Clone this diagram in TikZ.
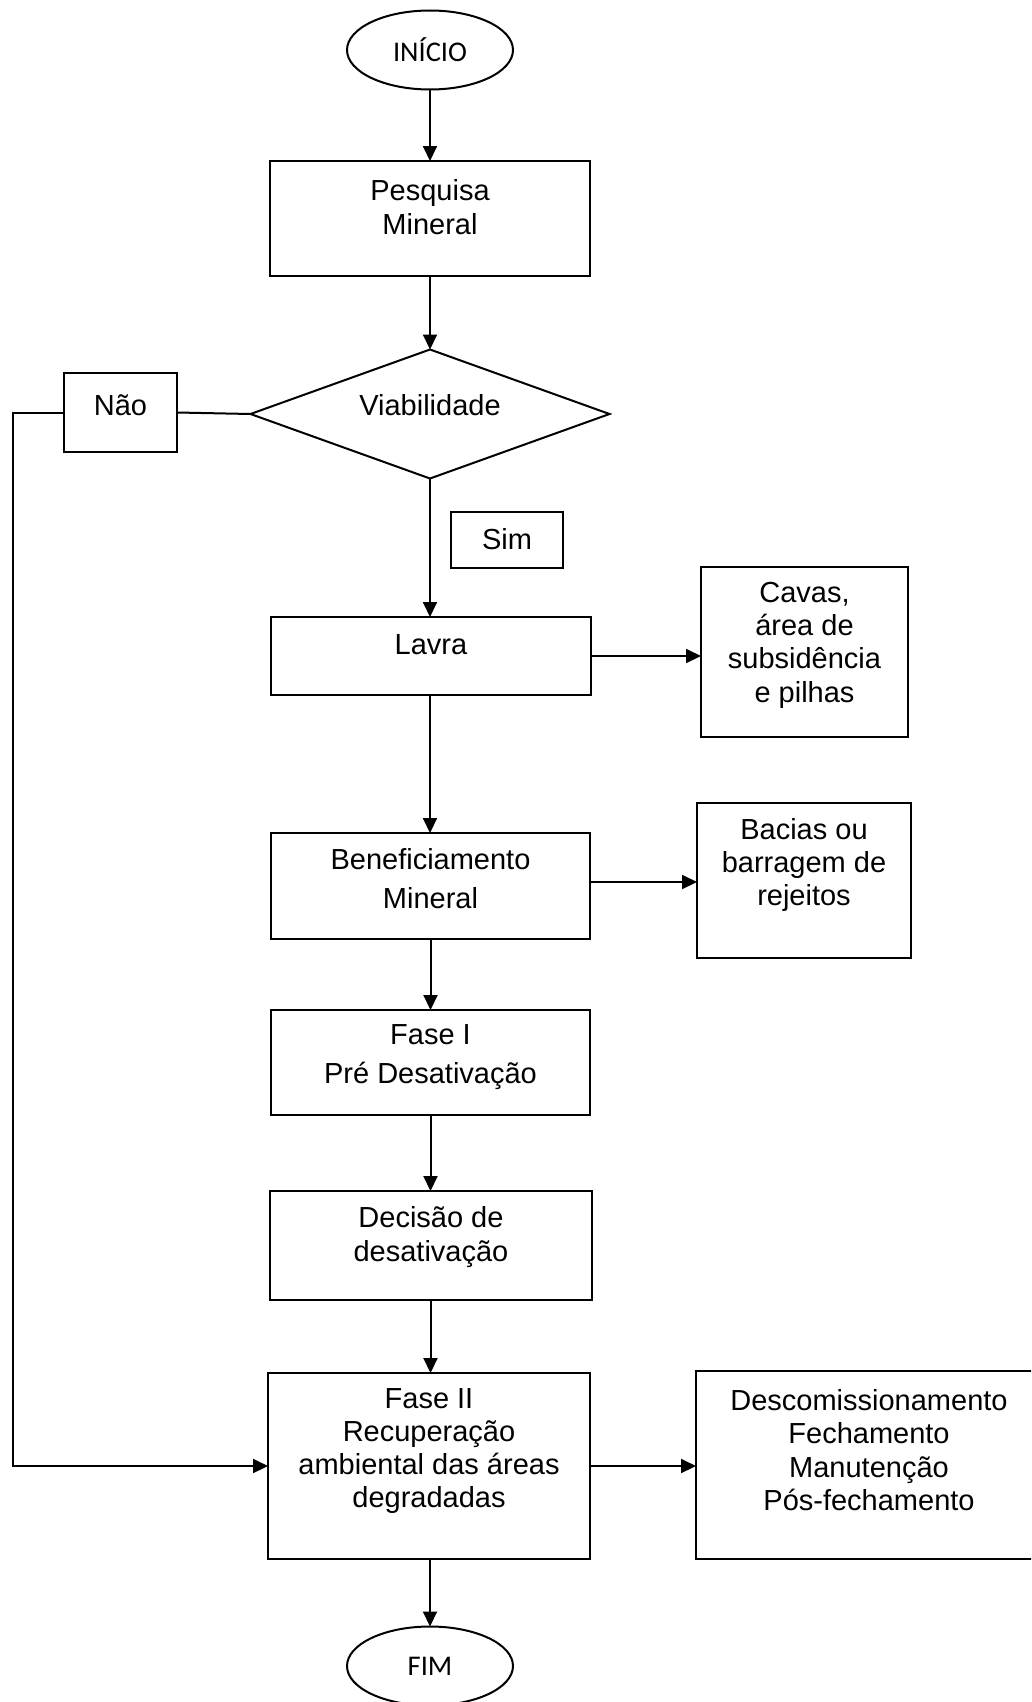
\documentclass[tikz,border=0pt]{standalone}
\usepackage{fontspec}
\setmainfont{Liberation Sans}
\newfontfamily\calib{Carlito}
\usetikzlibrary{shapes.geometric,arrows.meta,calc}
\begin{document}
\begin{tikzpicture}[x=1pt,y=-1pt,line width=2pt,
  box/.style={draw,rectangle,inner sep=0pt,outer sep=0pt},
  oval/.style={draw,ellipse,inner sep=0pt,outer sep=0pt,minimum width=166pt,minimum height=79pt,font=\calib\fontsize{28.5}{34}\selectfont},
  txt/.style={align=center,inner sep=0pt,font=\fontsize{29}{33.3}\selectfont},
  wtxt/.style={align=center,inner sep=0pt,font=\fontsize{29}{39}\selectfont},
  arr/.style={-{Triangle[length=15pt,width=14pt]}}]
\useasboundingbox (0,0) rectangle (1031,1702);
\clip (0,0) rectangle (1031,1702);
% shapes
\node[oval] (ini) at (430,50) {INÍCIO};
\node[box,minimum width=320pt,minimum height=115pt] (pesq) at (430,218.5) {};
\node[draw,diamond,inner sep=0pt,outer sep=0pt,minimum width=359pt,minimum height=129pt] (viab) at (430,414) {};
\node[box,minimum width=113pt,minimum height=79pt] (nao) at (120.5,412.5) {};
\node[box,minimum width=112pt,minimum height=56pt] (sim) at (507,540) {};
\node[box,minimum width=320pt,minimum height=78pt] (lavra) at (431,656) {};
\node[box,minimum width=207pt,minimum height=170pt] (cavas) at (804.5,652) {};
\node[box,minimum width=319pt,minimum height=106pt] (benef) at (430.5,886) {};
\node[box,minimum width=214pt,minimum height=155pt] (bacias) at (804,880.5) {};
\node[box,minimum width=319pt,minimum height=105pt] (fase1) at (430.5,1062.5) {};
\node[box,minimum width=322pt,minimum height=109pt] (dec) at (431,1245.5) {};
\node[box,minimum width=322pt,minimum height=186pt] (fase2) at (429,1466) {};
\node[box,minimum width=346pt,minimum height=188pt] (desc) at (869,1465) {};
\node[oval] (fim) at (430,1666) {FIM};
% texts
\node[txt] (pesq-t) at (430,207) {Pesquisa\\Mineral};
\node[txt] (viab-t) at (430,405) {Viabilidade};
\node[txt] (nao-t) at (120.5,405) {Não};
\node[txt] (sim-t) at (507,539) {Sim};
\node[txt] (lavra-t) at (431,645) {Lavra};
\node[txt] (cavas-t) at (804.5,645) {Cavas,\\área de\\subsidência\\e pilhas};
\node[wtxt] (benef-t) at (430.5,879) {Beneficiamento\\Mineral};
\node[txt] (bacias-t) at (804,865) {Bacias ou\\barragem de\\rejeitos};
\node[wtxt] (fase1-t) at (430.5,1057) {Fase I\\Pré Desativação};
\node[txt] (dec-t) at (431,1237) {Decisão de\\desativação};
\node[txt] (fase2-t) at (429,1451) {Fase II\\Recuperação\\ambiental das áreas\\degradadas};
\node[txt] (desc-t) at (869,1450) {Descomissionamento\\Fechamento\\Manutenção\\Pós-fechamento};
% connectors
\coordinate (rail) at (13,0);
\draw[arr] (ini.south) -- (pesq.north);
\draw[arr] (pesq.south) -- (viab.north);
\draw (viab.west) -- (nao.east);
\draw[arr] (nao.west) -- (nao.west -| rail) -- (rail |- fase2.west) -- (fase2.west);
\draw[arr] (viab.south) -- (viab.south |- lavra.north);
\draw[arr] (lavra.east) -- (lavra.east -| cavas.west);
\draw[arr] (lavra.south -| viab.south) -- (benef.north -| viab.south);
\draw[arr] ([yshift=4pt]benef.east) -- ([yshift=4pt]benef.east -| bacias.west);
\draw[arr] (benef.south) -- (fase1.north);
\draw[arr] (fase1.south) -- (dec.north -| fase1.south);
\draw[arr] (dec.south -| fase1.south) -- (fase2.north -| fase1.south);
\draw[arr] (fase2.east) -- (fase2.east -| desc.west);
\draw[arr] (fase2.south -| fim.north) -- (fim.north);
\end{tikzpicture}
\end{document}
